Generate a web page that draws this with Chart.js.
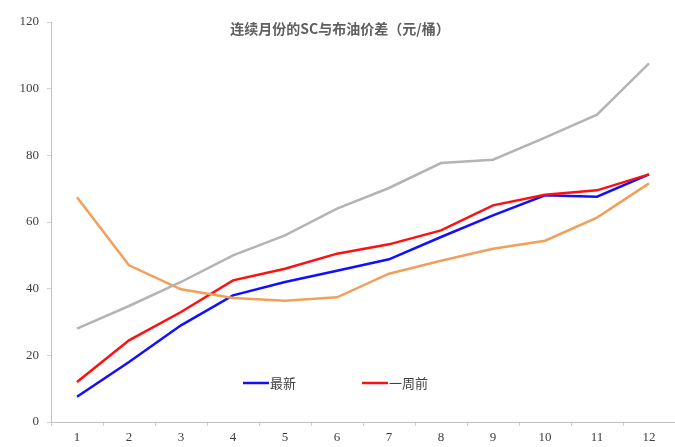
<!DOCTYPE html>
<html>
<head>
<meta charset="utf-8">
<script src="https://cdn.jsdelivr.net/npm/chart.js@4.4.0/dist/chart.umd.min.js"></script>
<style>
  html, body { margin: 0; padding: 0; background: #fff; }
  #wrap { width: 675px; height: 447px; position: relative; }
</style>
</head>
<body>
<div id="wrap"><canvas id="spreadChart"></canvas></div>
<script>
// Chart data
const months = ['1', '2', '3', '4', '5', '6', '7', '8', '9', '10', '11', '12'];
const latest = [7.6, 18, 29, 38, 42, 45.4, 48.8, 55.5, 62, 68, 67.6, 74.3];
const weekAgo = [12, 24.5, 33, 42.5, 46, 50.5, 53.3, 57.5, 65, 68.2, 69.5, 74.3];
const grayLine = [28, 34.8, 42, 50, 56, 64, 70.2, 77.7, 78.7, 85.3, 92.2, 107.6];
const orangeLine = [67.4, 47, 39.8, 37.2, 36.4, 37.4, 44.5, 48.4, 52, 54.4, 61.3, 71.6];
const yTicks = [0, 20, 40, 60, 80, 100, 120];
const chartTitle = '连续月份的SC与布油价差（元/桶）';
const legendNames = ['最新', '一周前'];

// Title drawn over the plot area
const overlayTitle = {
    id: 'overlayTitle',
    afterDraw(chart) {
        const ctx = chart.ctx;
        const area = chart.chartArea;
        ctx.save();
        ctx.font = 'bold 14px "Noto Sans CJK SC"';
        ctx.fillStyle = '#606060';
        ctx.textAlign = 'center';
        ctx.textBaseline = 'middle';
        ctx.fillText(chartTitle, 340, area.top + 7);
        ctx.restore();
    }
};

// Legend drawn inside the plot, only for the two labelled series
const innerLegend = {
    id: 'innerLegend',
    afterDraw(chart) {
        const ctx = chart.ctx;
        const area = chart.chartArea;
        const y = area.bottom - 39;
        let x = 243;
        ctx.save();
        ctx.font = '13px "Noto Sans CJK SC"';
        ctx.textBaseline = 'middle';
        legendNames.forEach(function(name) {
            const ds = chart.data.datasets.find(function(d) { return d.label === name; });
            ctx.strokeStyle = ds.borderColor;
            ctx.lineWidth = 2.5;
            ctx.beginPath();
            ctx.moveTo(x, y);
            ctx.lineTo(x + 26, y);
            ctx.stroke();
            ctx.fillStyle = '#404040';
            ctx.fillText(ds.label, x + 27, y);
            x += 119;
        });
        ctx.restore();
    }
};

const ctx = document.getElementById('spreadChart').getContext('2d');
new Chart(ctx, {
    type: 'line',
    data: {
        labels: months,
        datasets: [
            { label: '远月', data: grayLine, borderColor: '#b4b4b4', borderWidth: 2.5 },
            { label: '近月', data: orangeLine, borderColor: '#f0a05a', borderWidth: 2.5 },
            { label: '一周前', data: weekAgo, borderColor: '#ff1010', borderWidth: 2.5 },
            { label: '最新', data: latest, borderColor: '#1010ff', borderWidth: 2.5 }
        ]
    },
    options: {
        responsive: true,
        maintainAspectRatio: false,
        animation: false,
        elements: {
            point: { radius: 0 },
            line: { tension: 0 }
        },
        layout: { padding: { top: 22, right: 0, left: 0, bottom: 0 } },
        plugins: {
            legend: { display: false },
            title: { display: false },
            tooltip: { enabled: false }
        },
        scales: {
            x: {
                offset: true,
                grid: {
                    display: true,
                    offset: true,
                    drawOnChartArea: false,
                    drawTicks: true,
                    tickLength: 4,
                    color: '#d0d0d0'
                },
                border: { color: '#bfbfbf', width: 1 },
                ticks: {
                    color: '#404040',
                    font: { family: '"Liberation Serif"', size: 13 },
                    padding: 4,
                    maxRotation: 0
                },
                afterFit: function(axis) { axis.height = 25; }
            },
            y: {
                min: 0,
                max: 120,
                afterBuildTicks: function(axis) {
                    axis.ticks = yTicks.map(function(v) { return { value: v }; });
                },
                grid: {
                    display: true,
                    drawOnChartArea: false,
                    drawTicks: true,
                    tickLength: 4,
                    color: '#d0d0d0'
                },
                border: { color: '#bfbfbf', width: 1 },
                ticks: {
                    color: '#404040',
                    font: { family: '"Liberation Serif"', size: 13 },
                    padding: 8
                },
                afterFit: function(axis) { axis.width = 51; }
            }
        }
    },
    plugins: [overlayTitle, innerLegend]
});
</script>
</body>
</html>
